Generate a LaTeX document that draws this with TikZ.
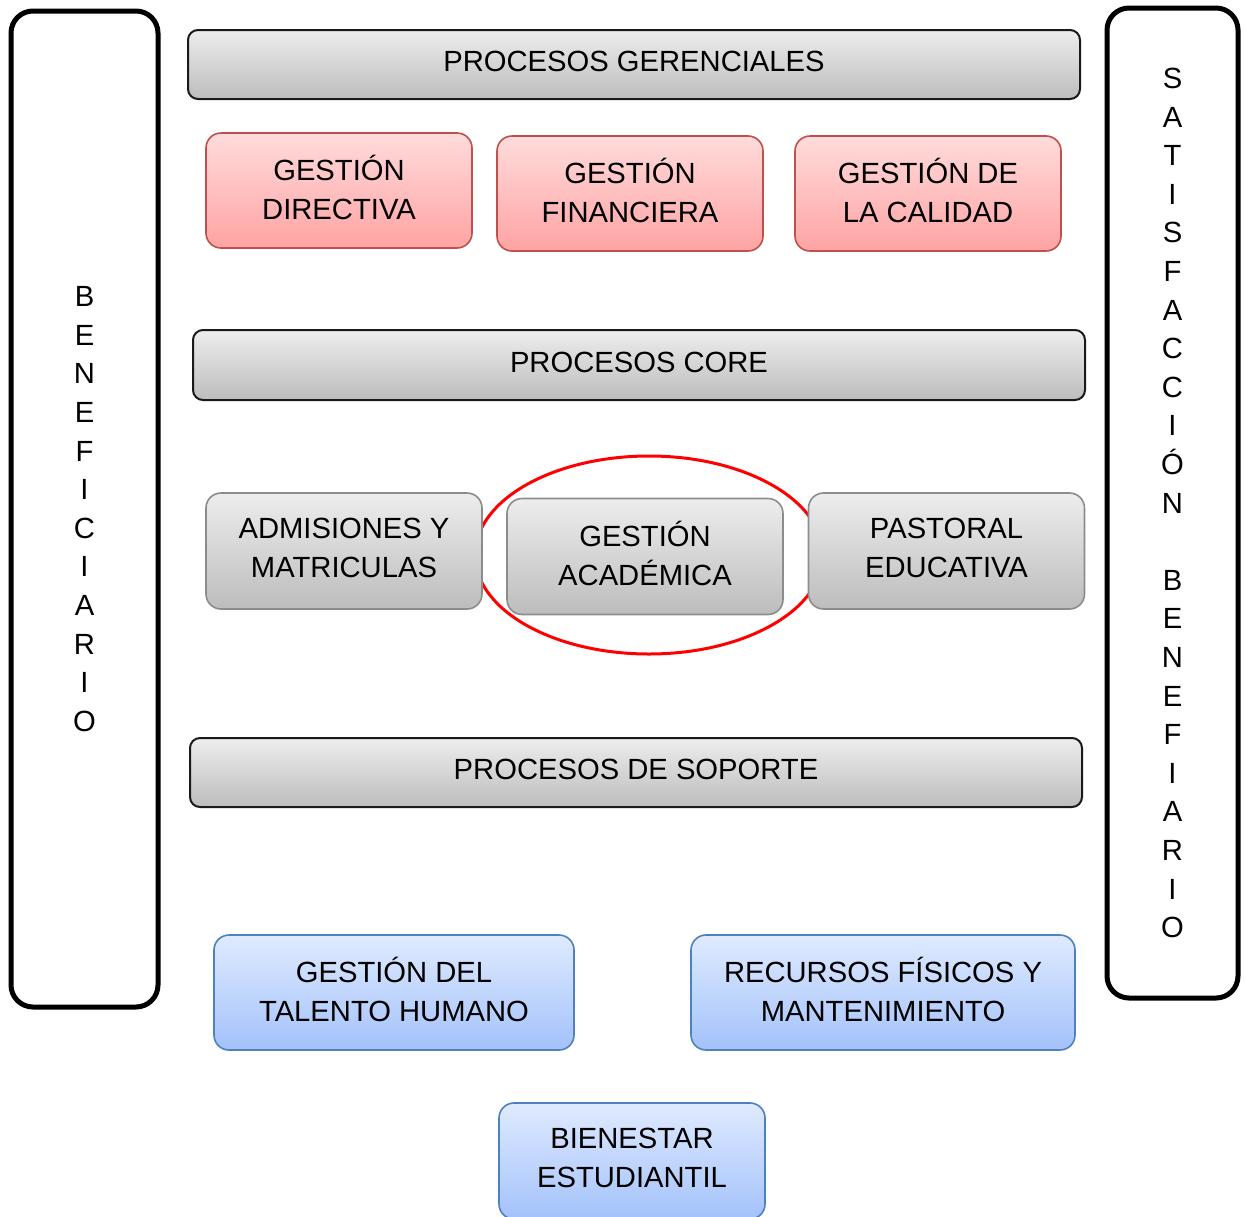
\documentclass[tikz,border=0pt]{standalone}
\usepackage{fontspec}
\setmainfont{Liberation Sans}
\usetikzlibrary{positioning}
\definecolor{barline}{HTML}{1A1A1A}
\definecolor{redline}{HTML}{C0504D}
\definecolor{blueline}{HTML}{4F81BD}
\definecolor{grayline}{HTML}{8C8C8C}
\definecolor{bluetop}{HTML}{DFEAFF}
\definecolor{bluebot}{HTML}{A3C2FA}
\tikzset{
  bar/.style={draw=barline,line width=1pt,rounded corners=5pt,top color=gray!14,bottom color=gray!52,minimum width=446pt,minimum height=34.5pt,text depth=3pt},
  redbox/.style={draw=redline,line width=.8pt,rounded corners=7.5pt,top color=red!14,bottom color=red!36,minimum width=133pt,minimum height=57.5pt,align=center,text depth=3pt},
  graybox/.style={draw=grayline,line width=.8pt,rounded corners=7.5pt,top color=gray!14,bottom color=gray!52,minimum width=138pt,minimum height=58pt,align=center,text depth=3pt},
  bluebox/.style={draw=blueline,line width=.8pt,rounded corners=7.5pt,top color=bluetop,bottom color=bluebot,minimum height=57.5pt,align=center,text depth=3pt},
  sidebox/.style={draw=black,line width=2.5pt,rounded corners=11pt,align=center}
}
\begin{document}
\begin{tikzpicture}[x=.5pt,y=-.5pt,font=\fontsize{14.6}{19.3}\selectfont]
\useasboundingbox (0,0) rectangle (1246,1216);
% Side columns.
\node[sidebox,minimum width=73.5pt,minimum height=498pt] (benef) at (84.5,509) {B\\E\\N\\E\\F\\I\\C\\I\\A\\R\\I\\O};
\node[sidebox,minimum width=65.5pt,minimum height=495pt] (satisf) at (1172.5,503) {S\\A\\T\\I\\S\\F\\A\\C\\C\\I\\Ó\\N\\ \\B\\E\\N\\E\\F\\I\\A\\R\\I\\O};
% Management processes.
\node[bar] (gerenc) at (634,64.5) {PROCESOS GERENCIALES};
\node[redbox] (directiva) at (339,190.5) {GESTIÓN\\DIRECTIVA};
\node[redbox] (financiera) at (630,193.5) {GESTIÓN\\FINANCIERA};
\node[redbox] (calidad) at (928,193.5) {GESTIÓN DE\\LA CALIDAD};
% Core processes, the academic one ringed in red.
\node[bar,minimum height=35pt] (core) at (639,365) {PROCESOS CORE};
\draw[red,line width=1.5pt] (649,555) ellipse (87pt and 49.5pt);
\node[graybox] (admisiones) at (344,551) {ADMISIONES Y\\MATRICULAS};
\node[graybox] (academica) at (645,556.5) {GESTIÓN\\ACADÉMICA};
\node[graybox] (pastoral) at (946.5,551) {PASTORAL\\EDUCATIVA};
% Support processes.
\node[bar] (soporte) at (636,772.5) {PROCESOS DE SOPORTE};
\node[bluebox,minimum width=180pt] (talento) at (394,992.5) {GESTIÓN DEL\\TALENTO HUMANO};
\node[bluebox,minimum width=192pt] (recursos) at (883,992.5) {RECURSOS FÍSICOS Y\\MANTENIMIENTO};
\node[bluebox,minimum width=133pt,minimum height=58pt] (bienestar) at (632,1161) {BIENESTAR\\ESTUDIANTIL};
\end{tikzpicture}
\end{document}
